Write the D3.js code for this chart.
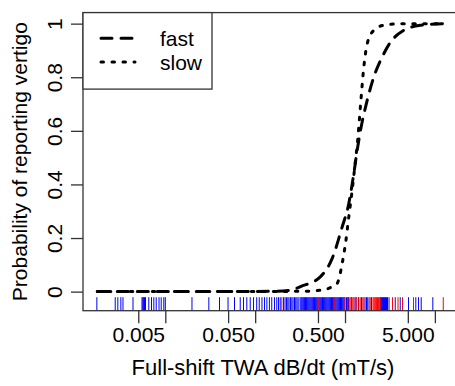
<!DOCTYPE html>
<html>
<head>
<meta charset="utf-8">
<script src="https://cdn.jsdelivr.net/npm/d3@7"></script>
<style>
  body { margin: 0; background: #fff; }
  text { font-family: "Liberation Sans", Arial, sans-serif; fill: #000; }
</style>
</head>
<body>
<svg id="chart"></svg>
<script>
const width = 455;
const height = 386;

// fitted probability curves (x in mT/s)
const fastX = [0.00175, 0.0246, 0.148, 0.247, 0.320, 0.534, 0.720, 0.931, 1.102, 1.253, 1.367, 1.488, 1.766, 2.092, 2.594, 3.210, 4.513, 6.922, 12.4];
const fastY = [0, 0, 0.001, 0.005, 0.019, 0.056, 0.124, 0.242, 0.329, 0.441, 0.528, 0.602, 0.714, 0.801, 0.876, 0.931, 0.975, 0.994, 1.0];

const slowX = [0.00175, 0.320, 0.534, 0.690, 0.819, 0.931, 1.013, 1.102, 1.202, 1.309, 1.388, 1.424, 1.514, 1.619, 1.766, 2.092, 2.703, 4.513, 12.4];
const slowY = [0, 0.001, 0.005, 0.015, 0.031, 0.106, 0.180, 0.279, 0.379, 0.491, 0.570, 0.615, 0.727, 0.838, 0.925, 0.975, 0.994, 1.0, 1.0];

// rug: observed exposures, blue = no vertigo, red = vertigo
const rugBlue = [
  0.00173, 0.00277, 0.00296, 0.00320, 0.00338, 0.00437, 0.00550, 0.00562, 0.00574, 0.00587,
  0.00602, 0.00655, 0.00702, 0.00745, 0.00792, 0.00851, 0.00900, 0.00962, 0.0100, 0.0198,
  0.0305, 0.0401, 0.0499, 0.0589, 0.0682, 0.0742, 0.0807, 0.0881, 0.0959, 0.104,
  0.111, 0.119, 0.127, 0.135, 0.144, 0.153, 0.164, 0.174, 0.182, 0.190,
  0.207, 0.215, 0.223, 0.231, 0.238, 0.247, 0.256, 0.264, 0.274, 0.283, 0.292, 0.301,
  0.316, 0.324, 0.331, 0.339, 0.347, 0.355, 0.363, 0.372, 0.380, 0.389,
  0.398, 0.407, 0.417, 0.427, 0.437, 0.447, 0.457, 0.468, 0.479, 0.490,
  0.501, 0.513, 0.525, 0.537, 0.550, 0.562, 0.575, 0.589, 0.603, 0.617,
  0.631, 0.646, 0.661, 0.676, 0.692, 0.708, 0.724, 0.741, 0.759, 0.776,
  0.794, 0.813, 0.832, 0.851, 0.871, 0.891, 0.912, 0.933, 0.955, 0.977, 1.00,
  1.039, 1.094, 1.181, 1.259, 1.326, 1.413, 1.527, 1.627, 1.735, 1.849, 1.972,
  2.483, 2.547, 2.612, 2.682, 2.752, 2.823, 2.897, 2.972, 3.089,
  3.621, 4.116, 5.090, 6.137, 6.577, 7.047, 9.49
];
const rugRed = [
  0.198, 0.511, 0.758, 0.975, 1.066, 1.110, 1.143, 1.185, 1.221, 1.299, 1.353, 1.420, 1.476,
  1.578, 1.678, 1.780, 1.908, 2.049, 2.097, 2.146, 2.196, 2.247, 2.300,
  2.353, 2.408, 2.465, 3.379, 3.890, 4.365, 5.787, 12.4
];

const xTicks = [0.005, 0.01, 0.05, 0.1, 0.5, 1, 5, 10];
const xTickLabels = ["0.005", "", "0.050", "", "0.500", "", "5.000", ""];
const yTicks = [0, 0.2, 0.4, 0.6, 0.8, 1];
const yLimits = [-0.03, 1];

const margin = { left: 83, top: 12.6, bottom: 75.3 };

const svg = d3.select("#chart").attr("width", width).attr("height", height);

// R style: extend the range by 4% on each side (log scale for x)
const allX = fastX.concat(slowX, rugBlue, rugRed);
const lx = d3.extent(allX).map(Math.log10);
const padX = (lx[1] - lx[0]) * 0.04;
const padY = (yLimits[1] - yLimits[0]) * 0.04;
const plotRight = margin.left + (lx[1] - lx[0] + 2 * padX) * 89.85;

const x = d3.scaleLog()
  .domain([Math.pow(10, lx[0] - padX), Math.pow(10, lx[1] + padX)])
  .range([margin.left, plotRight]);
const y = d3.scaleLinear()
  .domain([yLimits[0] - padY, yLimits[1] + padY])
  .range([height - margin.bottom, margin.top]);

const plotBottom = y.range()[0];

// rug
const rugLen = 13.5;
svg.append("g").selectAll("line")
  .data(rugBlue)
  .join("line")
  .attr("x1", d => x(d)).attr("x2", d => x(d))
  .attr("y1", plotBottom).attr("y2", plotBottom - rugLen)
  .attr("stroke", "#0000ff")
  .attr("stroke-width", 1);
svg.append("g").selectAll("line")
  .data(rugRed)
  .join("line")
  .attr("x1", d => x(d)).attr("x2", d => x(d))
  .attr("y1", plotBottom).attr("y2", plotBottom - rugLen)
  .attr("stroke", "#ff0000")
  .attr("stroke-width", 1);

// curves
const line = d3.line()
  .x(d => x(d[0]))
  .y(d => y(d[1]))
  .curve(d3.curveMonotoneX);

svg.append("path")
  .datum(d3.zip(fastX, fastY))
  .attr("d", line)
  .attr("fill", "none")
  .attr("stroke", "#000")
  .attr("stroke-width", 3)
  .attr("stroke-linecap", "round")
  .attr("stroke-dasharray", "11,9");

svg.append("path")
  .datum(d3.zip(slowX, slowY))
  .attr("d", line)
  .attr("fill", "none")
  .attr("stroke", "#000")
  .attr("stroke-width", 3)
  .attr("stroke-linecap", "round")
  .attr("stroke-dasharray", "2.5,8.5");

// axes
const xAxis = svg.append("g")
  .attr("transform", `translate(0,${plotBottom})`)
  .call(d3.axisBottom(x).tickValues(xTicks).tickSize(12.5).tickPadding(4)
    .tickFormat((d, i) => xTickLabels[i]));
xAxis.select(".domain").remove();

const yAxis = svg.append("g")
  .attr("transform", `translate(${margin.left},0)`)
  .call(d3.axisLeft(y).tickValues(yTicks).tickSize(12).tickFormat(d3.format("~g")));
yAxis.select(".domain").remove();

svg.selectAll(".tick line").attr("stroke", "#333").attr("stroke-width", 1.3);
svg.selectAll(".tick text").style("font-size", "21px").attr("fill", "#000");

yAxis.selectAll(".tick text")
  .attr("x", null).attr("dy", null)
  .attr("text-anchor", "middle")
  .attr("transform", "translate(-21,0) rotate(-90)");

// box
svg.append("rect")
  .attr("x", margin.left).attr("y", margin.top)
  .attr("width", plotRight - margin.left)
  .attr("height", plotBottom - margin.top)
  .attr("fill", "none")
  .attr("stroke", "#333")
  .attr("stroke-width", 1.3);

// axis titles
svg.append("text")
  .attr("x", 263)
  .attr("y", 375)
  .attr("text-anchor", "middle")
  .style("font-size", "22px")
  .text("Full-shift TWA dB/dt (mT/s)");

svg.append("text")
  .attr("transform", `translate(27,${(margin.top + plotBottom) / 2}) rotate(-90)`)
  .attr("text-anchor", "middle")
  .style("font-size", "21px")
  .text("Probability of reporting vertigo");

// legend
const legend = svg.append("g");
legend.append("rect")
  .attr("x", margin.left).attr("y", margin.top)
  .attr("width", 129).attr("height", 76.5)
  .attr("fill", "#fff")
  .attr("stroke", "#333")
  .attr("stroke-width", 1.3);

const legendItems = ["fast", "slow"];
const legendDash = ["11,9", "2.5,8.5"];
legendItems.forEach((name, i) => {
  const ly = 38.3 + i * 23.7;
  legend.append("line")
    .attr("x1", 101).attr("x2", 135)
    .attr("y1", ly).attr("y2", ly)
    .attr("stroke", "#000")
    .attr("stroke-width", 3)
    .attr("stroke-linecap", "round")
    .attr("stroke-dasharray", legendDash[i]);
  legend.append("text")
    .attr("x", 160).attr("y", ly + 7.5)
    .style("font-size", "21px")
    .text(name);
});
</script>
</body>
</html>
